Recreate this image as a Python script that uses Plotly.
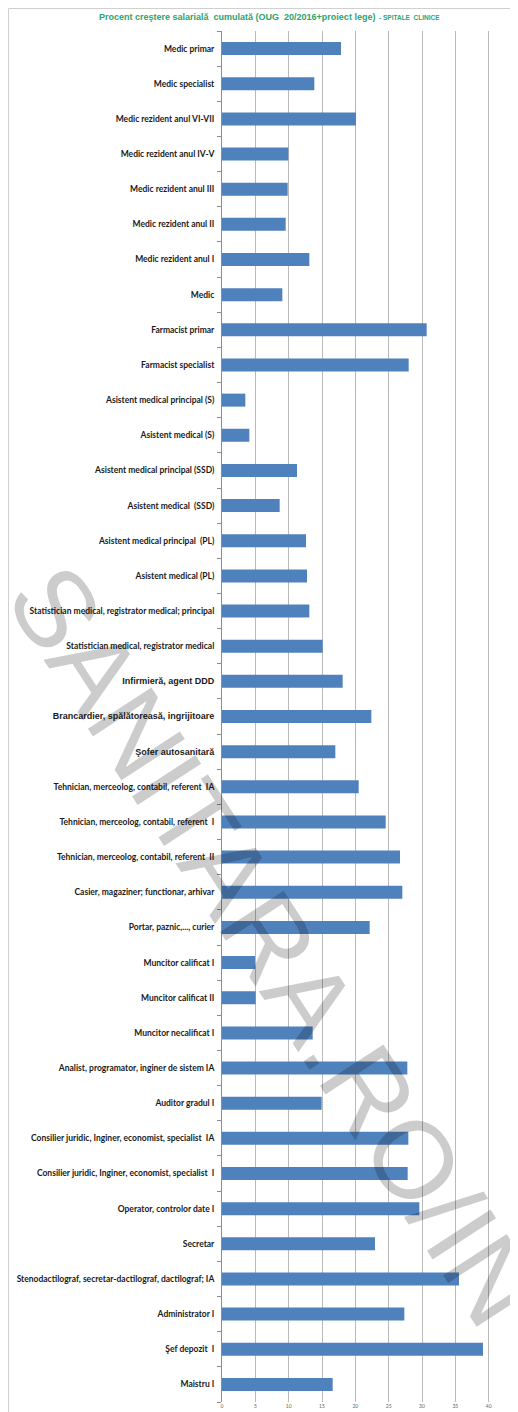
import plotly.graph_objects as go

categories = [
    "Medic primar", "Medic specialist", "Medic rezident anul VI-VII", "Medic rezident anul IV-V",
    "Medic rezident anul III", "Medic rezident anul II", "Medic rezident anul I", "Medic",
    "Farmacist primar", "Farmacist specialist", "Asistent medical principal (S)", "Asistent medical (S)",
    "Asistent medical principal (SSD)", "Asistent medical  (SSD)", "Asistent medical principal  (PL)",
    "Asistent medical (PL)", "Statistician medical, registrator medical; principal",
    "Statistician medical, registrator medical", "Infirmieră, agent DDD",
    "Brancardier, spălătoreasă, ingrijitoare", "Şofer autosanitară",
    "Tehnician, merceolog, contabil, referent  IA", "Tehnician, merceolog, contabil, referent  I",
    "Tehnician, merceolog, contabil, referent  II", "Casier, magaziner; functionar, arhivar",
    "Portar, paznic,..., curier", "Muncitor calificat I", "Muncitor calificat II",
    "Muncitor necalificat I", "Analist, programator, inginer de sistem IA", "Auditor gradul I",
    "Consilier juridic, Inginer, economist, specialist  IA",
    "Consilier juridic, Inginer, economist, specialist  I", "Operator, controlor date I", "Secretar",
    "Stenodactilograf, secretar-dactilograf, dactilograf; IA", "Administrator I", "Şef depozit  I",
    "Maistru I",
]
values = [
    17.85, 13.85, 20.1, 9.95, 9.85, 9.55, 13.1, 9.05,
    30.7, 28.0, 3.5, 4.1, 11.25, 8.65, 12.6, 12.75,
    13.1, 15.1, 18.1, 22.4, 17.0,
    20.5, 24.55, 26.7, 27.05, 22.15, 4.95, 5.05, 13.6,
    27.8, 14.95, 27.95, 27.85, 29.6, 22.95, 35.55, 27.35, 39.15, 16.6,
]
# labels that use a different (Arial-like) font in the original
arial_labels = ["Infirmieră, agent DDD", "Brancardier, spălătoreasă, ingrijitoare", "Şofer autosanitară"]
x_ticks = [0, 5, 10, 15, 20, 25, 30, 35, 40]

# the page body has an 8px margin: lay the figure out in page pixels minus 8
OFF = 8
W, H = 518 - OFF, 1412 - OFF
L, R, T, B = 222 - OFF, 0, 31 - OFF, 10
PW, PH = W - L - R, H - T - B


def px_x(p):
    return (p - OFF - L) / PW


def px_y(p):
    return (H - B - (p - OFF)) / PH


ticktext = []
for c in categories:
    if c in arial_labels:
        ticktext.append('<span style="font-family:Liberation Sans;font-size:9px;font-weight:bold">'
                        + c + '</span>')
    else:
        ticktext.append(c)

fig = go.Figure(go.Bar(
    x=values, y=categories, orientation="h",
    marker=dict(color="#4F81BD", line=dict(width=0)),
))

fig.update_layout(
    width=W, height=H,
    margin=dict(l=L, r=R, t=T, b=B, autoexpand=False),
    paper_bgcolor="white", plot_bgcolor="white",
    bargap=0.63,
    showlegend=False,
    font=dict(family="Lato", color="#1a1a1a"),
    xaxis=dict(
        range=[0, 44.4], tickvals=x_ticks, ticktext=[str(v) for v in x_ticks],
        showgrid=True, gridcolor="#BABABA", gridwidth=1, zeroline=False,
        showline=False, ticks="", tickfont=dict(size=5, color="#666666"),
        automargin=False,
    ),
    yaxis=dict(
        categoryorder="array", categoryarray=categories, autorange="reversed",
        tickvals=categories, ticktext=ticktext,
        showline=True, linecolor="#8C8C8C", linewidth=1,
        ticks="outside", tickson="boundaries", ticklen=4, tickcolor="#8C8C8C",
        ticklabelstandoff=5,
        tickfont=dict(size=8.5, family="Lato", weight="bold", color="#1a1a1a"),
        showgrid=False, zeroline=False, automargin=False,
    ),
    shapes=[
        dict(type="line", xref="paper", yref="paper", x0=px_x(8.5), x1=px_x(8.5), y0=px_y(8.5), y1=px_y(1420),
             line=dict(color="#D0D0D0", width=1)),
        dict(type="line", xref="paper", yref="paper", x0=px_x(8.5), x1=px_x(520), y0=px_y(8.5), y1=px_y(8.5),
             line=dict(color="#D0D0D0", width=1)),
    ],
    annotations=[
        dict(
            text='<b>Procent creştere salarială  cumulată (OUG  20/2016+proiect lege)</b>'
                 '<span style="font-size:6.5px"><b>  - SPITALE  CLINICE</b></span>',
            xref="paper", yref="paper", x=px_x(269), y=px_y(17), xanchor="center", yanchor="middle",
            showarrow=False, font=dict(family="Liberation Sans", size=9, color="#2BA46E"),
        ),
        dict(
            text="SANITARA.RO/IN",
            xref="paper", yref="paper", x=px_x(275), y=px_y(945), xanchor="center", yanchor="middle",
            showarrow=False, textangle=57,
            font=dict(family="Liberation Sans", size=110, color="rgba(0,0,0,0.2)"),
        ),
    ],
)

fig.write_html("out.html")
